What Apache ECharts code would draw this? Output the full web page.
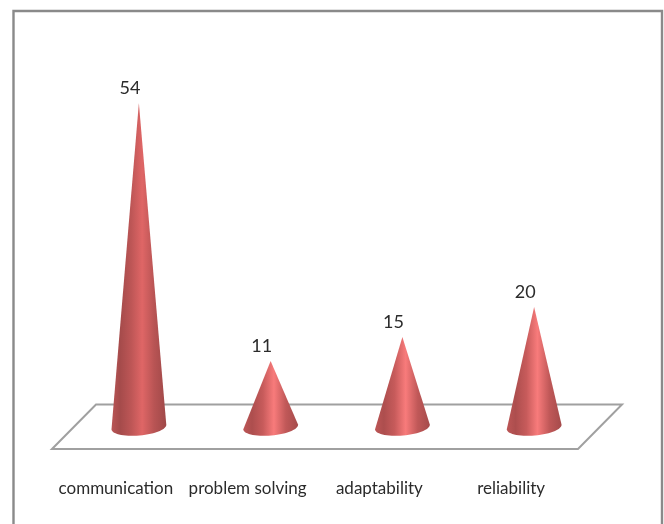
<!DOCTYPE html>
<html>
<head>
<meta charset="utf-8">
<style>html,body{margin:0;padding:0;background:#fff}#c{width:664px;height:524px}</style>
<script src="https://cdn.jsdelivr.net/npm/echarts@6/dist/echarts.min.js"></script>
</head>
<body>
<div id="c"></div>
<script>
const categories = ['communication', 'problem solving', 'adaptability', 'reliability'];
const values = [54, 11, 15, 20];

const FONT = 'Lato,"Open Sans",sans-serif';
const chart = echarts.init(document.getElementById('c'), null, {renderer: 'canvas'});

function coneFill(bright) {
  const k = bright;
  return {
    type: 'linear', x: 0, y: 0, x2: 1, y2: 0,
    colorStops: [
      {offset: 0, color: k ? '#bd5656' : '#b95555'},
      {offset: 0.16, color: k ? '#ad4e4e' : '#a54b4b'},
      {offset: 0.36, color: k ? '#c75b5b' : '#bd5656'},
      {offset: 0.56, color: k ? '#f87b7b' : '#df6666'},
      {offset: 0.78, color: k ? '#c05858' : '#b85454'},
      {offset: 1, color: k ? '#a54b4b' : '#9f4848'}
    ]
  };
}

function renderCone(params, api) {
  const top = api.coord([api.value(0), api.value(1)]);
  const base = api.coord([api.value(0), 0]);
  const rx = 27.5, ry = 8.5, tilt = -5 * Math.PI / 180;
  const cosT = Math.cos(tilt), sinT = Math.sin(tilt);
  const pts = [[top[0], top[1]]];
  for (let a = 180; a >= 0; a -= 6) {
    const r = a * Math.PI / 180;
    const ex = rx * Math.cos(r), ey = ry * Math.sin(r);
    pts.push([base[0] + ex * cosT - ey * sinT, base[1] + ex * sinT + ey * cosT]);
  }
  return {
    type: 'group',
    children: [
      {type: 'polygon', shape: {points: pts}, style: {fill: coneFill(api.value(1) < 40)}},
      {type: 'text', style: {
        x: top[0] - 9, y: top[1] - 15, text: String(api.value(1)),
        fill: '#2b2b2b', font: '18px ' + FONT, align: 'center', verticalAlign: 'middle'
      }}
    ]
  };
}

chart.setOption({
  animation: false,
  backgroundColor: '#fff',
  grid: [
    {left: 73, right: 64, top: 103, bottom: 97},
    {left: 50, right: 87, top: 103, bottom: 97}
  ],
  xAxis: [
    {type: 'category', gridIndex: 0, data: categories, axisLine: {show: false}, axisTick: {show: false}, axisLabel: {show: false}},
    {type: 'category', gridIndex: 1, data: categories, axisLine: {show: false}, axisTick: {show: false},
     axisLabel: {margin: 53, color: '#2b2b2b', fontSize: 17, fontFamily: FONT, interval: 0}}
  ],
  yAxis: [
    {type: 'value', gridIndex: 0, min: 0, max: 54, show: false},
    {type: 'value', gridIndex: 1, min: 0, max: 54, show: false}
  ],
  graphic: [
    {type: 'polyline', z: 0, shape: {points: [[13.5, 524], [13.5, 11], [662, 11], [662, 524]]},
     style: {stroke: '#8a8a8a', lineWidth: 2.4, fill: null}},
    {type: 'polygon', z: 0, shape: {points: [[52, 449], [96, 404.5], [622, 404.5], [578, 449]]},
     style: {stroke: '#a0a0a0', lineWidth: 2, fill: '#fff'}}
  ],
  series: [{
    type: 'custom',
    xAxisIndex: 0, yAxisIndex: 0, z: 5,
    clip: false,
    renderItem: renderCone,
    encode: {x: 0, y: 1},
    data: values.map((v, i) => [i, v])
  }]
});
</script>
</body>
</html>
